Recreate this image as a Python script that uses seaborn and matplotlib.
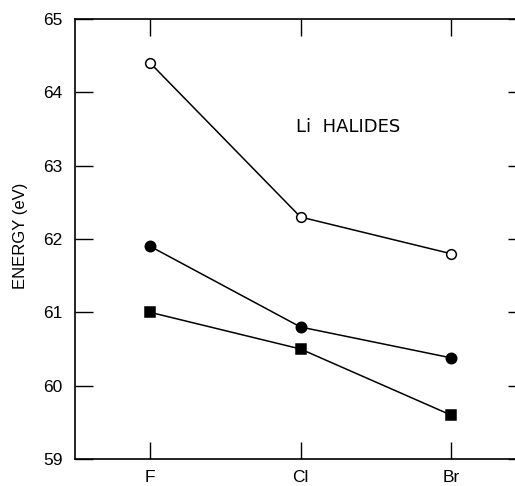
import matplotlib
matplotlib.use("Agg")
import matplotlib.pyplot as plt
import seaborn as sns
import pandas as pd

categories = ["F", "Cl", "Br"]
open_circle = [64.4, 62.3, 61.8]
filled_circle = [61.9, 60.8, 60.38]
filled_square = [61.0, 60.5, 59.6]
yticks = [59, 60, 61, 62, 63, 64, 65]

sns.set_style("white")
plt.rcParams["font.family"] = ["Liberation Sans", "DejaVu Sans"]
plt.rcParams["text.color"] = "black"
plt.rcParams["axes.labelcolor"] = "black"
plt.rcParams["xtick.color"] = "black"
plt.rcParams["ytick.color"] = "black"

W, H = 515, 486
fig = plt.figure(figsize=(W / 100, H / 100), dpi=100)
left, right, top, bottom = 75, 526, 19, 459
ax = fig.add_axes([left / W, 1 - bottom / H, (right - left) / W, (bottom - top) / H])

series = [
    (open_circle, "o", "white", 7),
    (filled_circle, "o", "black", 7.5),
    (filled_square, "s", "black", 7),
]
for vals, mk, fc, ms in series:
    df = pd.DataFrame({"x": categories, "y": vals})
    sns.lineplot(data=df, x="x", y="y", ax=ax, color="black", lw=1.1,
                 marker=mk, markerfacecolor=fc, markeredgecolor="black",
                 markeredgewidth=1.1, markersize=ms)

ax.set_xlim(-0.5, 2.5)
ax.set_ylim(59, 65)
ax.set_yticks(yticks)
ax.set_yticklabels([str(t) for t in yticks], fontsize=12.5)
ax.set_xticks(range(len(categories)))
ax.set_xticklabels(categories, fontsize=12.5)
ax.set_xlabel("")
ax.set_ylabel("ENERGY (eV)", fontsize=12)
ax.yaxis.set_label_coords(-47 / (right - left), 0.507)

ax.tick_params(axis="y", direction="in", length=13, width=1, left=True, right=True, pad=9)
ax.tick_params(axis="x", direction="in", length=12, width=1, bottom=True, top=True, pad=8)
for s in ["left", "top", "bottom"]:
    ax.spines[s].set_linewidth(1.2)
    ax.spines[s].set_color("black")
ax.spines["right"].set_visible(False)

ax.text(0.97, 63.53, "Li  HALIDES", fontsize=13, va="center", ha="left",
        family=["DejaVu Sans"])

fig.savefig("out.png", dpi=100)
